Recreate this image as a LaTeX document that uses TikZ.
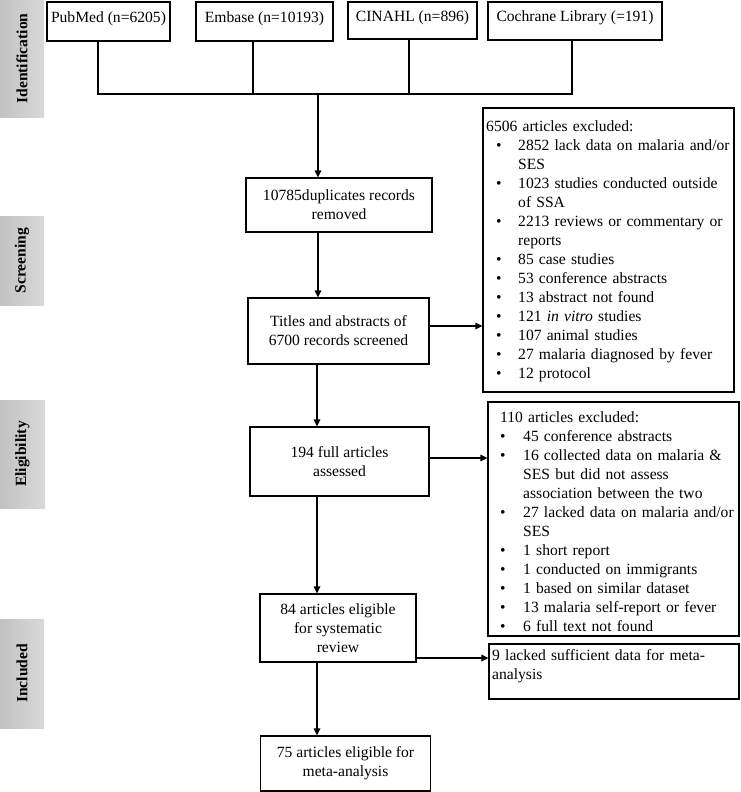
\documentclass[tikz,border=0pt]{standalone}
\usepackage{fontspec}
\setmainfont{Liberation Serif}
\usetikzlibrary{arrows.meta,calc}
\newcommand{\bitemA}[1]{\par\noindent\hangindent=32pt\hangafter=1\makebox[32pt][l]{\hspace{10pt}\textbullet}#1}
\newcommand{\bitemB}[1]{\par\noindent\hangindent=23pt\hangafter=1\makebox[23pt][l]{\textbullet}#1}
\newcommand{\nl}{\hfil\break}
\begin{document}
\begin{tikzpicture}[x=1pt,y=-1pt,
  every node/.style={font=\fontsize{15.6}{19}\selectfont},
  box/.style={draw, line width=1.1pt, inner sep=0pt, align=center},
  srcbox/.style={box, text depth=9pt},
  bar/.style={draw=none, rotate=90, left color=black!24, right color=black!15, inner sep=0pt,
              font=\fontsize{15.6}{19}\selectfont\bfseries},
  lst/.style={anchor=north west, inner sep=0pt, text width=250pt, align=left},
  ln/.style={line width=1.1pt},
  arr/.style={line width=1.1pt, -{Triangle[length=7pt,width=6.5pt]}}
]
\useasboundingbox (0,0) rectangle (740,792);

% phase bars
\node[bar, minimum width=117pt, minimum height=44pt] (b1) at (22,58.5) {Identification};
\node[bar, minimum width=89pt, minimum height=44pt] (b2) at (22,260.5) {Screening};
\node[bar, minimum width=108pt, minimum height=45pt] (b3) at (22.5,454) {Eligibility};
\node[bar, minimum width=109pt, minimum height=44pt] (b4) at (22,673.5) {Included};

% source boxes
\node[srcbox, minimum width=123pt, minimum height=39pt] (pub) at (108.5,21.5) {PubMed (n=6205)};
\node[srcbox, minimum width=137pt, minimum height=39pt] (emb) at (264.5,21.5) {Embase (n=10193)};
\node[srcbox, minimum width=129pt, minimum height=37pt] (cin) at (412.5,20.5) {CINAHL (n=896)};
\node[srcbox, minimum width=174pt, minimum height=38pt] (coch) at (575,21) {Cochrane Library (=191)};

% main column
\node[box, minimum width=186pt, minimum height=54pt] (dup) at (339,205) {10785duplicates records\\removed};
\node[box, minimum width=181pt, minimum height=66pt] (tit) at (338.5,331) {Titles and abstracts of\\6700 records screened};
\node[box, minimum width=179pt, minimum height=69pt] (full) at (339.5,461.5) {194 full articles\\assessed};
\node[box, minimum width=156pt, minimum height=68pt] (elig) at (338,628) {84 articles eligible\\for systematic\\review};
\node[box, minimum width=170pt, minimum height=55pt] (meta) at (345.5,763.5) {75 articles eligible for\\meta-analysis};

% exclusion boxes
\node[box, minimum width=251pt, minimum height=284pt] (ex1) at (608.5,250) {};
\node[lst] (ex1t) at (486,118) {\strut 6506 articles excluded:
\bitemA{2852 lack data on malaria and/or\nl SES}
\bitemA{1023 studies conducted outside\nl of SSA}
\bitemA{2213 reviews or commentary or\nl reports}
\bitemA{85 case studies}
\bitemA{53 conference abstracts}
\bitemA{13 abstract not found}
\bitemA{121 \textit{in vitro} studies}
\bitemA{107 animal studies}
\bitemA{27 malaria diagnosed by fever}
\bitemA{12 protocol}};

\node[box, minimum width=251pt, minimum height=234pt] (ex2) at (613.5,519) {};
\node[lst] (ex2t) at (500,409) {\strut 110 articles excluded:
\bitemB{45 conference abstracts}
\bitemB{16 collected data on malaria \&\nl SES but did not assess\nl association between the two}
\bitemB{27 lacked data on malaria and/or\nl SES}
\bitemB{1 short report}
\bitemB{1 conducted on immigrants}
\bitemB{1 based on similar dataset}
\bitemB{13 malaria self-report or fever}
\bitemB{6 full text not found}};

\node[box, minimum width=250pt, minimum height=55pt] (ex3) at (614,671.5) {};
\node[lst] (ex3t) at (492,647) {\strut 9 lacked sufficient data for meta-\nl analysis};

% junction coordinates
\coordinate (j1) at (98,94);
\coordinate (j2) at (253,94);
\coordinate (j3) at (409,94);
\coordinate (j4) at (572,94);
\coordinate (jm) at (318,94);
\coordinate (col) at (317,0);
\coordinate (h1) at (0,326);
\coordinate (h2) at (0,458);
\coordinate (h3) at (0,658);

\draw[ln] (pub.south -| j1) -- (j1) -- (j4) -- (coch.south -| j4);
\draw[ln] (emb.south -| j2) -- (j2);
\draw[ln] (cin.south -| j3) -- (j3);
\draw[arr] (jm) -- (dup.north -| jm);
\draw[arr] (dup.south -| jm) -- (tit.north -| jm);
\draw[arr] (tit.south -| col) -- (full.north -| col);
\draw[arr] (full.south -| col) -- (elig.north -| col);
\draw[arr] (elig.south -| col) -- (meta.north -| col);
\draw[arr] (tit.east |- h1) -- (ex1.west |- h1);
\draw[arr] (full.east |- h2) -- (ex2.west |- h2);
\draw[arr] (elig.east |- h3) -- (ex3.west |- h3);
\end{tikzpicture}
\end{document}
